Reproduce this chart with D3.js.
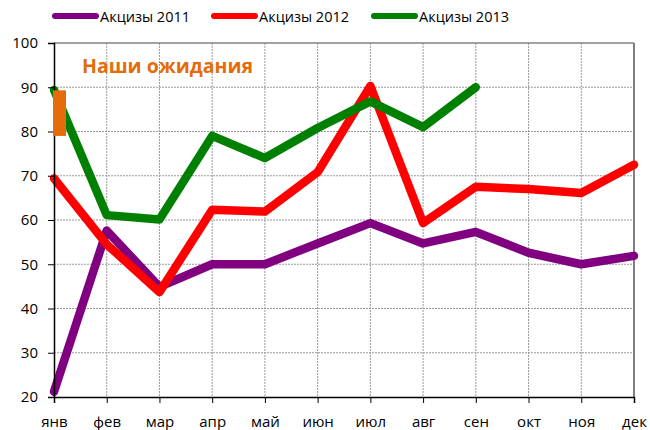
<!DOCTYPE html>
<html><head><meta charset="utf-8">
<script src="https://cdn.jsdelivr.net/npm/d3@7"></script>
<style>body{margin:0;background:#fff}svg{font-family:"Open Sans",Lato,sans-serif}</style>
</head><body>
<svg id="c" width="650" height="430"></svg>
<script>
const months = ["янв","фев","мар","апр","май","июн","июл","авг","сен","окт","ноя","дек"];
const s2011 = [21.2,57.6,44.9,50,50,54.7,59.3,54.7,57.3,52.6,50,51.9];
const s2012 = [69.4,54.5,43.7,62.3,61.9,70.8,90.3,59.3,67.5,67,66.1,72.5];
const s2013 = [89.4,61.1,60.1,79,74,80.8,86.8,81,90];
const names = ["Акцизы 2011","Акцизы 2012","Акцизы 2013"];
const colors = ["#800080","#ff0000","#008000"];
const yTicks = [20,30,40,50,60,70,80,90,100];
const expectRange = [79,89.3];
const expectLabel = "Наши ожидания";

const svg = d3.select("#c");
const L=54,R=634,T=43,B=397;
const x = d3.scalePoint().domain(months).range([L,R]);
const y = d3.scaleLinear().domain([20,100]).range([B,T]);

// grid
const g = svg.append("g");
g.selectAll(".hg").data(yTicks.slice(1,-1)).join("line")
 .attr("x1",L).attr("x2",R).attr("y1",d=>y(d)).attr("y2",d=>y(d))
 .attr("stroke","#9a9a9a").attr("stroke-width",1).attr("stroke-dasharray","2,1");
g.selectAll(".vg").data(months.slice(1,-1)).join("line")
 .attr("x1",d=>x(d)).attr("x2",d=>x(d)).attr("y1",T).attr("y2",B)
 .attr("stroke","#9a9a9a").attr("stroke-width",1).attr("stroke-dasharray","2,1");
// frame top/right
svg.append("line").attr("x1",L).attr("x2",R).attr("y1",T).attr("y2",T).attr("stroke","#808080").attr("stroke-width",1.5);
svg.append("line").attr("x1",R).attr("x2",R).attr("y1",T).attr("y2",B).attr("stroke","#808080").attr("stroke-width",2);

// lines
const line = d3.line().x((d,i)=>x(months[i])).y(d=>y(d));
[s2011,s2012,s2013].forEach((s,k)=>{
 svg.append("path").datum(s).attr("d",line).attr("fill","none")
  .attr("stroke",colors[k]).attr("stroke-width",8.5)
  .attr("stroke-linejoin","round").attr("stroke-linecap","round");
});

// axes
const yAx = svg.append("g").attr("transform",`translate(${L},0)`)
 .call(d3.axisLeft(y).tickValues(yTicks).tickSize(6).tickPadding(10));
const xAx = svg.append("g").attr("transform",`translate(0,${B})`)
 .call(d3.axisBottom(x).tickSize(6).tickPadding(13));
[yAx,xAx].forEach(a=>{
 a.select(".domain").attr("stroke","#000").attr("stroke-width",1.5);
 a.selectAll(".tick line").attr("stroke","#000");
 a.selectAll("text").attr("font-size",15).attr("fill","#000").attr("font-family","'Open Sans',sans-serif");
});

// expectation box (drawn over the lines)
svg.append("rect").attr("x",L-1).attr("width",13)
 .attr("y",y(expectRange[1])).attr("height",y(expectRange[0])-y(expectRange[1]))
 .attr("fill","#e46c0a");
svg.append("text").attr("x",82).attr("y",73).text(expectLabel)
 .attr("fill","#e46c0a").attr("font-weight","bold").attr("font-size",19.5);

// legend
const lx=[55,214,374];
names.forEach((n,k)=>{
 svg.append("line").attr("x1",lx[k]).attr("x2",lx[k]+41).attr("y1",16).attr("y2",16)
  .attr("stroke",colors[k]).attr("stroke-width",6).attr("stroke-linecap","round");
 svg.append("text").attr("x",lx[k]+45).attr("y",22).text(n).attr("font-size",14.5).attr("fill","#000");
});
</script>
</body></html>
